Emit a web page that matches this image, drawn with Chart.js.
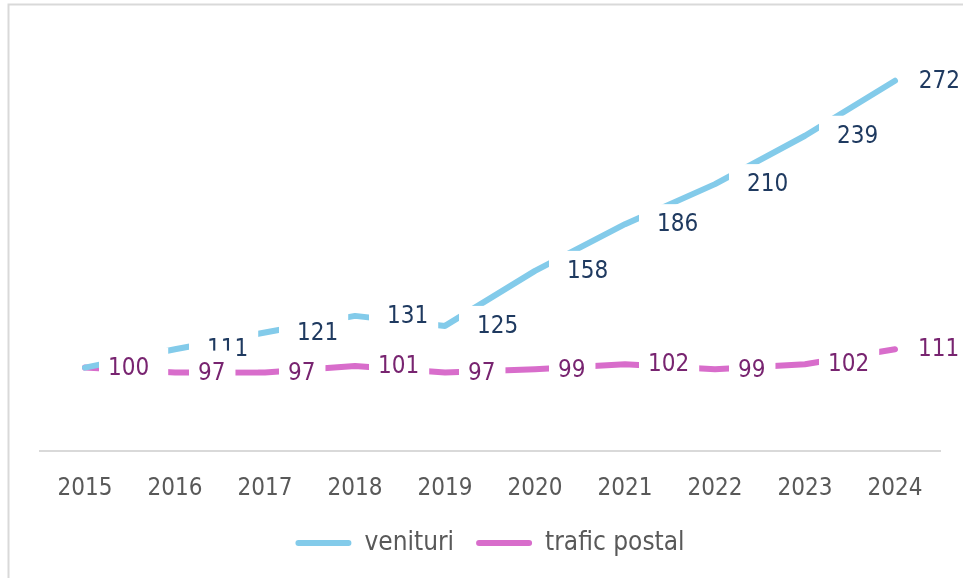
<!DOCTYPE html>
<html><head><meta charset="utf-8">
<script src="https://cdn.jsdelivr.net/npm/chart.js@4.4.1/dist/chart.umd.min.js"></script>
<style>html,body{margin:0;padding:0;background:#fff;overflow:hidden}</style>
</head><body>
<canvas id="c" width="963" height="578"></canvas>
<script>
const years = ['2015','2016','2017','2018','2019','2020','2021','2022','2023','2024'];
const venituri = [100,111,121,131,125,158,186,210,239,272];
const traficPostal = [100,97,97,101,97,99,102,99,102,111];
const seriesNames = ['venituri','trafic postal'];

const FONT_FAMILY = "'DejaVu Sans Condensed','DejaVu Sans',sans-serif";
const lineColors = ['#83CBEA','#D86DCB'];
const labelColors = ['#1F3A60','#782470'];
const labelTextOffset = [32, 23];
const labelHalfHeight = [20, 22];

const bgPlugin = {
  id:'bg',
  beforeDraw(chart){
    const ctx = chart.ctx;
    ctx.save();
    ctx.fillStyle = '#fff';
    ctx.fillRect(0,0,chart.width,chart.height);
    ctx.strokeStyle = '#D9D9D9';
    ctx.lineWidth = 2;
    ctx.strokeRect(8.5, 4.5, chart.width + 20, chart.height + 20);
    ctx.restore();
  }
};

const labelPlugin = {
  id:'boxLabels',
  afterDatasetsDraw(chart){
    const ctx = chart.ctx;
    chart.data.datasets.forEach((ds, di) => {
      const meta = chart.getDatasetMeta(di);
      ctx.save();
      ctx.font = '24px ' + FONT_FAMILY;
      ctx.textBaseline = 'middle';
      ctx.textAlign = 'left';
      meta.data.forEach((pt, i) => {
        const txt = String(ds.data[i]);
        const w = ctx.measureText(txt).width;
        let tx = Math.min(pt.x + labelTextOffset[di], chart.width - w - 3);
        const bx = pt.x + 14;
        const hh = labelHalfHeight[di];
        ctx.fillStyle = '#fff';
        ctx.fillRect(bx, pt.y - hh, tx + w + 10 - bx, hh * 2);
        ctx.fillStyle = labelColors[di];
        ctx.fillText(txt, tx, pt.y + 1);
      });
      ctx.restore();
    });
  }
};

new Chart(document.getElementById('c'), {
  type: 'line',
  data: {
    labels: years,
    datasets: [
      { label: seriesNames[0], data: venituri, borderColor: lineColors[0], backgroundColor: lineColors[0],
        borderWidth: 6, pointRadius: 0, borderCapStyle: 'round', borderJoinStyle: 'round', tension: 0 },
      { label: seriesNames[1], data: traficPostal, borderColor: lineColors[1], backgroundColor: lineColors[1],
        borderWidth: 6, pointRadius: 0, borderCapStyle: 'round', borderJoinStyle: 'round', tension: 0 }
    ]
  },
  options: {
    responsive: false,
    animation: false,
    devicePixelRatio: 1,
    layout: { padding: { left: 40, right: 23, top: 34, bottom: 12 } },
    scales: {
      x: {
        offset: true,
        grid: { display: false, drawTicks: false },
        border: { display: true, color: '#D9D9D9', width: 2 },
        ticks: { color: '#595959', font: { family: FONT_FAMILY, size: 24 }, padding: 23, maxRotation: 0 },
        afterFit(scale){ scale.height = 57; }
      },
      y: { display: false, min: 50, max: 300 }
    },
    plugins: {
      legend: {
        position: 'bottom',
        labels: {
          color: '#595959',
          font: { family: FONT_FAMILY, size: 26 },
          boxWidth: 56, boxHeight: 6, padding: 22,
          useBorderRadius: true, borderRadius: 3,
          generateLabels(chart){
            const items = Chart.defaults.plugins.legend.labels.generateLabels(chart);
            items.forEach(it => { it.lineWidth = 0; });
            return items;
          }
        }
      },
      tooltip: { enabled: false }
    }
  },
  plugins: [bgPlugin, labelPlugin]
});
</script>
</body></html>
